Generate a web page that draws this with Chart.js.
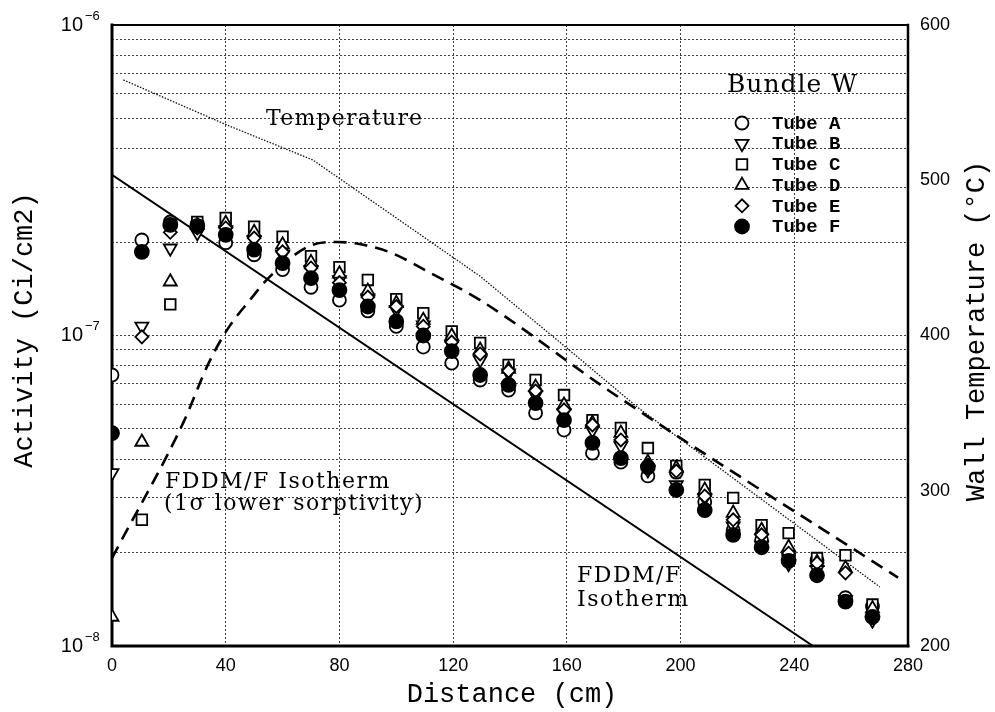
<!DOCTYPE html>
<html>
<head>
<meta charset="utf-8">
<title>Bundle W - activity and wall temperature</title>
<script src="https://cdn.jsdelivr.net/npm/chart.js@4.4.1/dist/chart.umd.min.js"></script>
<style>
  html, body { margin: 0; padding: 0; background: #fff; }
  #chart-canvas { display: block; }
</style>
</head>
<body>
<canvas id="chart-canvas" width="995" height="712"></canvas>
<script>
// sampling positions along the tubes (cm)
var distance = [0, 10.5, 20.5, 30, 40, 50, 60, 70, 80, 90, 100, 109.5, 119.5, 129.5, 139.5,
                149, 159, 169, 179, 188.5, 198.5, 208.5, 218.5, 228.5, 238, 248, 258, 267.5];

// activity (Ci/cm2) per tube, null = no marker visible
var tubeA = [7.46e-8, 2.03e-7, 2.32e-7, 2.29e-7, 1.99e-7, 1.82e-7, 1.63e-7, 1.43e-7, 1.30e-7, 1.20e-7,
             1.07e-7, 9.18e-8, 8.15e-8, 7.19e-8, 6.67e-8, 5.63e-8, 4.96e-8, 4.18e-8, 3.91e-8, 3.53e-8,
             3.63e-8, 2.91e-8, 2.36e-8, 2.19e-8, 1.96e-8, 1.89e-8, 1.43e-8, 1.34e-8];
var tubeB = [3.61e-8, 1.07e-7, 1.91e-7, 2.14e-7, 2.19e-7, 2.03e-7, 1.82e-7, 1.63e-7, 1.51e-7, 1.32e-7,
             1.21e-7, 1.08e-7, 9.32e-8, 8.34e-8, 7.57e-8, 6.43e-8, 5.63e-8, 4.96e-8, 4.41e-8, 3.69e-8,
             3.30e-8, 3.00e-8, 2.43e-8, 2.11e-8, 1.84e-8, 1.76e-8, 1.41e-8, 1.21e-8];
var tubeC = [null, 2.55e-8, 1.26e-7, 2.32e-7, 2.39e-7, 2.24e-7, 2.08e-7, 1.80e-7, 1.66e-7, 1.51e-7,
             1.31e-7, 1.18e-7, 1.03e-7, 9.46e-8, 8.04e-8, 7.19e-8, 6.43e-8, 5.34e-8, 5.04e-8, 4.34e-8,
             3.80e-8, 3.30e-8, 3.00e-8, 2.45e-8, 2.31e-8, 1.92e-8, 1.96e-8, 1.36e-8];
var tubeD = [1.24e-8, 4.54e-8, 1.49e-7, 2.27e-7, 2.30e-7, 2.15e-7, 1.96e-7, 1.72e-7, 1.58e-7, 1.39e-7,
             1.27e-7, 1.12e-7, 9.96e-8, 8.98e-8, 7.80e-8, 6.82e-8, 5.97e-8, 5.22e-8, 4.85e-8, 3.91e-8,
             3.74e-8, 3.18e-8, 2.68e-8, 2.36e-8, 2.08e-8, 1.86e-8, 1.78e-8, 1.32e-8];
var tubeE = [null, 9.9e-8, 2.15e-7, 2.22e-7, 2.22e-7, 2.06e-7, 1.86e-7, 1.65e-7, 1.48e-7, 1.33e-7,
             1.24e-7, 1.07e-7, 9.53e-8, 8.72e-8, 7.69e-8, 6.63e-8, 5.76e-8, 5.15e-8, 4.61e-8, 3.83e-8,
             3.66e-8, 3.04e-8, 2.55e-8, 2.28e-8, 1.99e-8, 1.85e-8, 1.72e-8, 1.24e-8];
var tubeF = [4.85e-8, 1.86e-7, 2.27e-7, 2.25e-7, 2.11e-7, 1.89e-7, 1.71e-7, 1.53e-7, 1.40e-7, 1.24e-7,
             1.11e-7, 1.00e-7, 8.91e-8, 7.46e-8, 6.93e-8, 6.06e-8, 5.34e-8, 4.51e-8, 4.03e-8, 3.77e-8,
             3.18e-8, 2.74e-8, 2.28e-8, 2.08e-8, 1.88e-8, 1.69e-8, 1.39e-8, 1.24e-8];
var tubeLabels = ["Tube A", "Tube B", "Tube C", "Tube D", "Tube E", "Tube F"];

// FDDM/F isotherm prediction
var isothermDist = [0, 246.6];
var isothermAct = [3.29e-7, 1.0e-8];

// FDDM/F isotherm, 1 sigma lower sorptivity
var lowSorpDist = [0, 3, 25, 34, 41, 48.5, 55, 70, 79, 87, 98, 112, 129.5, 176, 276.5];
var lowSorpAct = [1.92e-8, 2.16e-8, 5.22e-8, 8.15e-8, 1.06e-7, 1.30e-7, 1.53e-7, 1.95e-7, 2.0e-7,
                  1.97e-7, 1.85e-7, 1.59e-7, 1.30e-7, 6.53e-8, 1.66e-8];

// wall temperature (C), right axis
var tempDist = [4, 40.4, 70.7, 129.4, 160, 184.7, 270.1];
var tempC = [564.6, 535.6, 513.0, 438.3, 391.9, 354.0, 238.0];

// axis ticks
var distanceTicks = [0, 40, 80, 120, 160, 200, 240, 280];
var activityTicks = [1e-8, 2e-8, 3e-8, 4e-8, 5e-8, 6e-8, 7e-8, 8e-8, 9e-8,
                     1e-7, 2e-7, 3e-7, 4e-7, 5e-7, 6e-7, 7e-7, 8e-7, 9e-7, 1e-6];
var activityLabels = [[1e-6, "10", "\u22126"], [1e-7, "10", "\u22127"], [1e-8, "10", "\u22128"]];
var tempTicks = [200, 300, 400, 500, 600];

function toPoints(xs, ys) {
  var pts = [];
  for (var i = 0; i < xs.length; i++) {
    if (ys[i] !== null) pts.push({x: xs[i], y: ys[i]});
  }
  return pts;
}

function tubeDataset(label, values, style, radius, rotation, fill, order) {
  return {
    label: label,
    data: toPoints(distance, values),
    pointStyle: style,
    pointRadius: radius,
    pointHoverRadius: radius,
    pointRotation: rotation,
    pointBackgroundColor: fill,
    pointBorderColor: "#000",
    pointBorderWidth: 1.8,
    showLine: false,
    order: order
  };
}

// draws text with a little extra spacing between letters when supported
function spacedText(ctx, text, x, y, spacing) {
  if ("letterSpacing" in ctx) {
    ctx.letterSpacing = spacing + "px";
    ctx.fillText(text, x, y);
    ctx.letterSpacing = "0px";
  } else {
    ctx.fillText(text, x, y);
  }
}

var framePlugin = {
  id: "frame",
  beforeDatasetsDraw: function(chart) {
    var ctx = chart.ctx, a = chart.chartArea;
    ctx.save();
    ctx.strokeStyle = "#000";
    ctx.lineCap = "square";
    ctx.lineWidth = 2;
    ctx.beginPath(); ctx.moveTo(a.left, a.top); ctx.lineTo(a.right, a.top); ctx.stroke();
    ctx.lineWidth = 3;
    ctx.beginPath(); ctx.moveTo(a.left, a.top); ctx.lineTo(a.left, a.bottom); ctx.lineTo(a.right, a.bottom); ctx.stroke();
    ctx.lineWidth = 2.5;
    ctx.beginPath(); ctx.moveTo(a.right, a.top); ctx.lineTo(a.right, a.bottom); ctx.stroke();
    ctx.restore();
  },
  afterDraw: function(chart) {
    var ctx = chart.ctx, a = chart.chartArea;
    var yScale = chart.scales.y;
    ctx.save();
    ctx.fillStyle = "#000";

    // left tick labels, 10 with superscript exponent
    activityLabels.forEach(function(t) {
      var py = yScale.getPixelForValue(t[0]);
      ctx.font = "20px 'Liberation Sans'";
      ctx.textAlign = "right";
      ctx.textBaseline = "middle";
      ctx.fillText(t[1], 83, py);
      ctx.font = "13px 'Liberation Sans'";
      ctx.textAlign = "left";
      ctx.fillText(t[2], 85, py - 9);
    });

    // axis titles
    ctx.font = "27px 'Liberation Mono'";
    ctx.textAlign = "center";
    ctx.textBaseline = "middle";
    ctx.fillText("Distance (cm)", (a.left + a.right) / 2 + 2, 695);

    ctx.save();
    ctx.translate(25, 330);
    ctx.rotate(-Math.PI / 2);
    ctx.fillText("Activity (Ci/cm2)", 0, 0);
    ctx.restore();

    ctx.save();
    ctx.translate(977, 331);
    ctx.rotate(-Math.PI / 2);
    ctx.fillText("Wall Temperature (\u00b0C)", 0, 0);
    ctx.restore();

    // curve annotations
    ctx.textAlign = "left";
    ctx.textBaseline = "alphabetic";
    ctx.font = "22px 'DejaVu Serif'";
    spacedText(ctx, "Temperature", 266, 125, 1.2);
    spacedText(ctx, "FDDM/F Isotherm", 165, 488, 1.5);
    spacedText(ctx, "(1\u03c3 lower sorptivity)", 164, 510, 1.5);
    spacedText(ctx, "FDDM/F", 577, 582, 1.5);
    spacedText(ctx, "Isotherm", 577, 606, 1.5);

    // legend
    ctx.font = "25px 'DejaVu Serif'";
    spacedText(ctx, "Bundle W", 727, 92, 1);
    ctx.font = "bold 19px 'Liberation Mono'";
    ctx.textBaseline = "middle";
    var tubes = chart.data.datasets.filter(function(d) { return d.isTube; });
    tubes.sort(function(p, q) { return p.label < q.label ? -1 : 1; });
    tubes.forEach(function(ds, i) {
      var ly = 123 + i * 20.7;
      ctx.fillStyle = ds.pointBackgroundColor;
      ctx.strokeStyle = "#000";
      ctx.lineWidth = ds.pointBorderWidth;
      Chart.helpers.drawPoint(ctx, {
        pointStyle: ds.pointStyle,
        rotation: ds.pointRotation,
        radius: ds.pointRadius,
        borderWidth: ds.pointBorderWidth
      }, 742, ly);
      ctx.fillStyle = "#000";
      ctx.fillText(ds.label, 772, ly + 1);
    });
    ctx.restore();
  }
};

var tubeSets = [
  tubeDataset(tubeLabels[5], tubeF, "circle", 7, 0, "#000", 1),
  tubeDataset(tubeLabels[4], tubeE, "rectRot", 6.5, 0, "#fff", 2),
  tubeDataset(tubeLabels[3], tubeD, "triangle", 7.5, 0, "#fff", 3),
  tubeDataset(tubeLabels[2], tubeC, "rect", 7.5, 0, "#fff", 4),
  tubeDataset(tubeLabels[1], tubeB, "triangle", 7.5, 180, "#fff", 5),
  tubeDataset(tubeLabels[0], tubeA, "circle", 6.5, 0, "#fff", 6)
];
tubeSets.forEach(function(d) { d.isTube = true; });

var lineSets = [
  {
    label: "FDDM/F Isotherm",
    data: toPoints(isothermDist, isothermAct),
    showLine: true, pointRadius: 0, borderColor: "#000", borderWidth: 2, order: 10
  },
  {
    label: "FDDM/F Isotherm (1 sigma lower sorptivity)",
    data: toPoints(lowSorpDist, lowSorpAct),
    showLine: true, pointRadius: 0, borderColor: "#000", borderWidth: 2.6,
    borderDash: [13, 8], cubicInterpolationMode: "monotone", order: 11
  },
  {
    label: "Temperature",
    data: toPoints(tempDist, tempC),
    yAxisID: "y2",
    showLine: true, pointRadius: 0, borderColor: "#111", borderWidth: 1.3,
    borderDash: [1.5, 1.5], order: 12
  }
];

var gridColor = "rgba(0,0,0,0.75)";

var chartCanvas = new Chart(document.getElementById("chart-canvas"), {
  type: "scatter",
  data: { datasets: tubeSets.concat(lineSets) },
  options: {
    responsive: false,
    animation: false,
    events: [],
    layout: { padding: { top: 25, left: 0, right: 0, bottom: 0 } },
    plugins: { legend: { display: false }, tooltip: { enabled: false } },
    scales: {
      x: {
        type: "linear",
        min: 0,
        max: 280,
        afterFit: function(s) { s.height = 66; },
        afterBuildTicks: function(s) { s.ticks = distanceTicks.map(function(v) { return {value: v}; }); },
        ticks: { color: "#000", padding: 9, font: { family: "Liberation Sans", size: 18 } },
        grid: { color: gridColor, lineWidth: 1, drawTicks: false },
        border: { display: false, dash: [2, 2] }
      },
      y: {
        type: "logarithmic",
        position: "left",
        min: 1e-8,
        max: 1e-6,
        afterFit: function(s) { s.width = 112; },
        afterBuildTicks: function(s) { s.ticks = activityTicks.map(function(v) { return {value: v}; }); },
        ticks: { display: false },
        grid: { color: gridColor, lineWidth: 1, drawTicks: false },
        border: { display: false, dash: [2, 2] }
      },
      y2: {
        type: "linear",
        position: "right",
        min: 200,
        max: 600,
        afterFit: function(s) { s.width = 87; },
        afterBuildTicks: function(s) { s.ticks = tempTicks.map(function(v) { return {value: v}; }); },
        ticks: { color: "#000", padding: 12, font: { family: "Liberation Sans", size: 18 } },
        grid: { display: false, drawTicks: false },
        border: { display: false }
      }
    }
  },
  plugins: [framePlugin]
});
</script>
</body>
</html>
